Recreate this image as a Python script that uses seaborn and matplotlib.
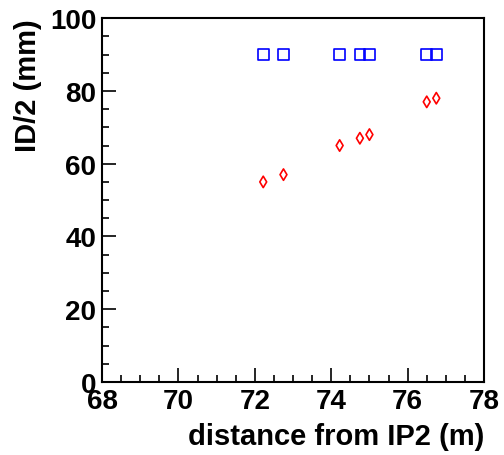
import numpy as np
import pandas as pd
import matplotlib
matplotlib.use("Agg")
import matplotlib.pyplot as plt
import seaborn as sns
from matplotlib.ticker import MultipleLocator

# distance from IP2 (m) and ID/2 (mm)
dist = [72.22, 72.75, 74.22, 74.75, 75.0, 76.5, 76.75]
id_blue = [90, 90, 90, 90, 90, 90, 90]
id_red = [55, 57, 65, 67, 68, 77, 78]

sns.set_style("ticks")
plt.rcParams['font.family'] = ['Liberation Sans', 'DejaVu Sans']
plt.rcParams['font.weight'] = 'bold'
plt.rcParams['text.color'] = 'black'
plt.rcParams['axes.labelcolor'] = 'black'
plt.rcParams['xtick.color'] = 'black'
plt.rcParams['ytick.color'] = 'black'

fig = plt.figure(figsize=(5.04, 4.56), dpi=100)
ax = fig.add_axes([0.2024, 0.160, 0.758, 0.798])

df = pd.DataFrame({"dist": dist, "blue": id_blue, "red": id_red})
sns.scatterplot(data=df, x="dist", y="blue", marker="s", s=60,
                facecolor="none", edgecolor="#0000ff", linewidth=1.2, ax=ax)
sns.scatterplot(data=df, x="dist", y="red", marker="d", s=34,
                facecolor="none", edgecolor="#ff0000", linewidth=1.2, ax=ax)

ax.set_xlim(68, 78)
ax.set_ylim(0, 100)
ax.xaxis.set_major_locator(MultipleLocator(2))
ax.xaxis.set_minor_locator(MultipleLocator(0.5))
ax.yaxis.set_major_locator(MultipleLocator(20))
ax.yaxis.set_minor_locator(MultipleLocator(5))
ax.tick_params(which='both', direction='in', top=False, right=False,
               labelsize=20, width=1.2, color='black', labelcolor='black')
ax.tick_params(which='major', length=10, pad=4)
ax.tick_params(which='minor', length=5)
for lab in ax.get_xticklabels() + ax.get_yticklabels():
    lab.set_fontweight('bold')
for sp in ax.spines.values():
    sp.set_visible(True)
    sp.set_linewidth(1.5)
    sp.set_color('black')

ax.set_xlabel("distance from IP2 (m)", fontsize=21, fontweight='bold',
              loc='right', labelpad=6, color='black')
ax.set_ylabel("ID/2 (mm)", fontsize=21, fontweight='bold',
              loc='top', labelpad=6, color='black')

fig.savefig("out.png", dpi=100)
